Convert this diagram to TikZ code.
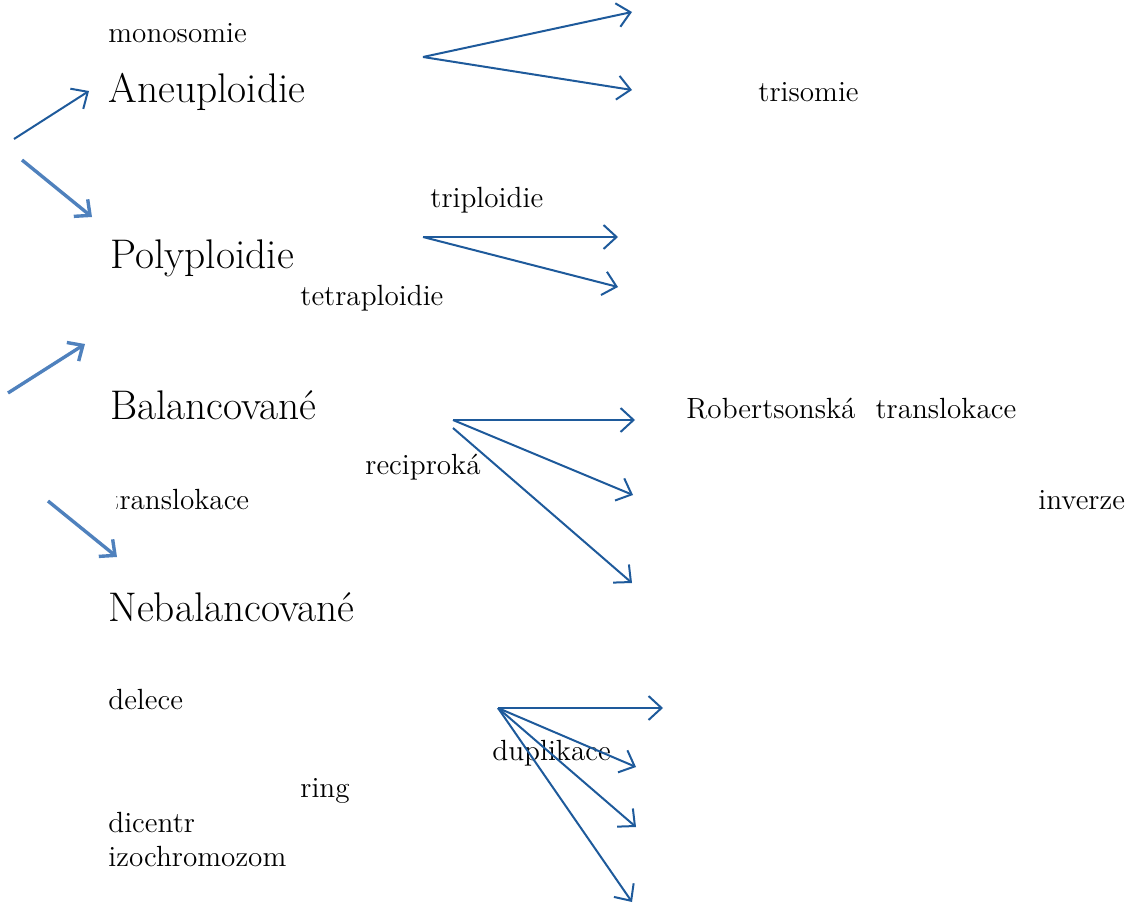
\documentclass[tikz,border=0pt]{standalone}
\usetikzlibrary{arrows.meta}
\definecolor{darkarrow}{RGB}{30,90,155}
\definecolor{lightarrow}{RGB}{79,129,189}
\tikzset{
  small/.style={anchor=base west,inner sep=0pt,font=\fontsize{14.6}{17}\selectfont},
  big/.style={anchor=base west,inner sep=0pt,font=\fontsize{20.7}{24}\selectfont},
  darr/.style={draw=darkarrow,line width=1pt,-{Straight Barb[length=6.5pt,width=12pt,line width=1pt]}},
  larr/.style={draw=lightarrow,line width=1.7pt,-{Straight Barb[length=6pt,width=11pt,line width=1.7pt]}},
}
\begin{document}
\begin{tikzpicture}[x=0.5pt,y=-0.5pt]
\useasboundingbox (0,0) rectangle (1145,904);
% texts
\node[small] (mono) at (108,43) {monosomie};
\node[big] (aneu) at (108,103) {Aneuploidie};
\node[small] (tri) at (758,102) {trisomie};
\node[small] (trip) at (430,207) {triploidie};
\node[big] (poly) at (110,268) {Polyploidie};
\node[small] (tetra) at (300,305) {tetraploidie};
\node[big] (bal) at (110,419) {Balancované};
\node[small] (rob) at (686,418) {Robertsonská\hspace{10pt}translokace};
\node[small] (reci) at (365,474) {reciproká};
\node[small] (transl) at (108,509) {translokace};
\node[small] (inv) at (1038,509) {inverze};
\node[big] (neb) at (108,621) {Nebalancované};
\node[small] (del) at (108,709) {delece};
\node[small] (dup) at (492,760) {duplikace};
\node[small] (ring) at (300,797) {ring};
\node[small] (dic) at (108,832) {dicentr};
\node[small] (izo) at (108,866) {izochromozom};
% white image box covering the first letter
\fill[white] (44,478) rectangle (116,575);
% coordinates
\coordinate (a0) at (423,57);
\coordinate (a1) at (632,12);
\coordinate (a2) at (632,90);
\coordinate (p0) at (423,237);
\coordinate (p1) at (618,237);
\coordinate (p2) at (618,287);
\coordinate (b0) at (453,420);
\coordinate (b0b) at (453,428);
\coordinate (b1) at (635,420);
\coordinate (b2) at (633,495);
\coordinate (b3) at (632,583);
\coordinate (n0) at (498,708);
\coordinate (n1) at (663,708);
\coordinate (n2) at (636,767);
\coordinate (n3) at (636,827);
\coordinate (n4) at (632,902);
\coordinate (l1s) at (14,139);
\coordinate (l1e) at (89,91);
\coordinate (l2s) at (22,160);
\coordinate (l2e) at (92,217);
\coordinate (l3s) at (8,393);
\coordinate (l3e) at (85,344);
\coordinate (l4s) at (48,501);
\coordinate (l4e) at (117,557);
% arrows
\draw[darr] (a0) -- (a1);
\draw[darr] (a0) -- (a2);
\draw[darr] (p0) -- (p1);
\draw[darr] (p0) -- (p2);
\draw[darr] (b0) -- (b1);
\draw[darr] (b0) -- (b2);
\draw[darr] (b0b) -- (b3);
\draw[darr] (n0) -- (n1);
\draw[darr] (n0) -- (n2);
\draw[darr] (n0) -- (n3);
\draw[darr] (n0) -- (n4);
\draw[darr] (l1s) -- (l1e);
\draw[larr] (l2s) -- (l2e);
\draw[larr] (l3s) -- (l3e);
\draw[larr] (l4s) -- (l4e);
\end{tikzpicture}
\end{document}
